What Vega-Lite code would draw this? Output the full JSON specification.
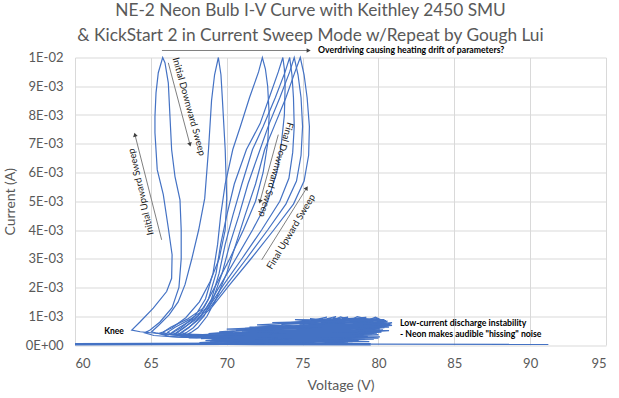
{
"$schema": "https://vega.github.io/schema/vega-lite/v6.json",
"width": 531, "height": 287.5,
"autosize": {"type": "none"},
"padding": {"left": 75, "top": 57.5, "right": 13, "bottom": 53},
"background": "white",
"title": {"text": ["NE-2 Neon Bulb I-V Curve with Keithley 2450 SMU", "& KickStart 2 in Current Sweep Mode w/Repeat by Gough Lui"], "font": "Lato", "fontSize": 17.3, "fontWeight": "normal", "color": "#595959", "lineHeight": 25, "anchor": "middle", "frame": "group", "dx": -30, "offset": 2.5},
"config": {"view": {"stroke": null}},
"datasets": {
"base": [{"s":"b","v":60,"i":0.00003},{"s":"b","v":70,"i":0.00004},{"s":"b","v":79.5,"i":0.00003}],
"curves": [
{"s":"T","v":79.5,"i":0.00003},{"s":"T","v":91.2,"i":0.00002},
{"s":"L1","v":69.5,"i":0.0003},{"s":"L1","v":67.5,"i":0.00033},{"s":"L1","v":65.5,"i":0.0004},{"s":"L1","v":64.3,"i":0.00046},{"s":"L1","v":63.74,"i":0.00052},
{"s":"L1","v":64.28,"i":0.0008},{"s":"L1","v":65.16,"i":0.00128},{"s":"L1","v":66.04,"i":0.00186},{"s":"L1","v":66.37,"i":0.00232},{"s":"L1","v":66.4,"i":0.00314},{"s":"L1","v":66.15,"i":0.00407},{"s":"L1","v":65.82,"i":0.00523},{"s":"L1","v":65.42,"i":0.0061},{"s":"L1","v":65.27,"i":0.00738},{"s":"L1","v":65.27,"i":0.00795},{"s":"L1","v":65.34,"i":0.00877},{"s":"L1","v":65.49,"i":0.00947},{"s":"L1","v":65.78,"i":0.01},
{"s":"L1","v":65.93,"i":0.00982},{"s":"L1","v":66.15,"i":0.00912},{"s":"L1","v":66.26,"i":0.00795},{"s":"L1","v":66.37,"i":0.00679},{"s":"L1","v":66.59,"i":0.00586},{"s":"L1","v":66.92,"i":0.00505},{"s":"L1","v":67.0,"i":0.004},{"s":"L1","v":67.0,"i":0.003},{"s":"L1","v":66.85,"i":0.002},{"s":"L1","v":66.4,"i":0.0013},{"s":"L1","v":65.6,"i":0.0008},{"s":"L1","v":64.95,"i":0.00052},{"s":"L1","v":64.6,"i":0.00042},
{"s":"L1","v":65.2,"i":0.00033},{"s":"L1","v":66.8,"i":0.00027},{"s":"L1","v":69,"i":0.00025},{"s":"L1","v":72,"i":0.0003},
{"s":"L2","v":71,"i":0.00028},{"s":"L2","v":68,"i":0.0003},{"s":"L2","v":66.2,"i":0.00036},{"s":"L2","v":65.4,"i":0.00041},{"s":"L2","v":65.05,"i":0.00046},
{"s":"L2","v":65.5,"i":0.00068},{"s":"L2","v":66.2,"i":0.00105},{"s":"L2","v":66.8,"i":0.0015},{"s":"L2","v":67.25,"i":0.0021},{"s":"L2","v":67.7,"i":0.003},{"s":"L2","v":68.15,"i":0.004},{"s":"L2","v":68.55,"i":0.0051},{"s":"L2","v":68.8,"i":0.0068},{"s":"L2","v":69.0,"i":0.0085},{"s":"L2","v":69.2,"i":0.0094},{"s":"L2","v":69.45,"i":0.01},
{"s":"L2","v":69.62,"i":0.0094},{"s":"L2","v":69.72,"i":0.0085},{"s":"L2","v":69.9,"i":0.0068},{"s":"L2","v":70.0,"i":0.0051},{"s":"L2","v":69.9,"i":0.004},{"s":"L2","v":69.5,"i":0.003},{"s":"L2","v":68.9,"i":0.0022},{"s":"L2","v":68.2,"i":0.0015},{"s":"L2","v":67.3,"i":0.00095},{"s":"L2","v":66.4,"i":0.0006},{"s":"L2","v":65.8,"i":0.00045},{"s":"L2","v":65.5,"i":0.0004},
{"s":"L2","v":66.2,"i":0.0003},{"s":"L2","v":68,"i":0.00025},{"s":"L2","v":71,"i":0.0003},{"s":"L2","v":74,"i":0.0004},
{"s":"L3","v":72,"i":0.0003},{"s":"L3","v":69,"i":0.00028},{"s":"L3","v":67,"i":0.00032},{"s":"L3","v":66.1,"i":0.00038},{"s":"L3","v":65.8,"i":0.00044},
{"s":"L3","v":66.3,"i":0.00062},{"s":"L3","v":67.4,"i":0.0009},{"s":"L3","v":68.5,"i":0.0013},{"s":"L3","v":69.3,"i":0.0021},{"s":"L3","v":70.2,"i":0.003},{"s":"L3","v":71.1,"i":0.004},{"s":"L3","v":71.9,"i":0.005},{"s":"L3","v":72.4,"i":0.006},{"s":"L3","v":72.7,"i":0.007},{"s":"L3","v":72.8,"i":0.008},{"s":"L3","v":72.7,"i":0.009},{"s":"L3","v":72.55,"i":0.0096},{"s":"L3","v":72.35,"i":0.01},
{"s":"L3","v":72.1,"i":0.0095},{"s":"L3","v":71.5,"i":0.0086},{"s":"L3","v":70.9,"i":0.0076},{"s":"L3","v":70.4,"i":0.0068},{"s":"L3","v":69.9,"i":0.0056},{"s":"L3","v":69.6,"i":0.0045},{"s":"L3","v":69.4,"i":0.0035},{"s":"L3","v":69.1,"i":0.0025},{"s":"L3","v":68.6,"i":0.0016},{"s":"L3","v":67.9,"i":0.001},{"s":"L3","v":67.0,"i":0.0006},{"s":"L3","v":66.5,"i":0.00045},{"s":"L3","v":66.3,"i":0.0004},
{"s":"L3","v":67,"i":0.0003},{"s":"L3","v":69,"i":0.00026},{"s":"L3","v":72,"i":0.00032},{"s":"L3","v":75,"i":0.00045},
{"s":"L4","v":73,"i":0.00035},{"s":"L4","v":70,"i":0.0003},{"s":"L4","v":67.5,"i":0.00032},{"s":"L4","v":66.4,"i":0.00038},{"s":"L4","v":66.1,"i":0.00044},
{"s":"L4","v":66.6,"i":0.00062},{"s":"L4","v":67.6,"i":0.0009},{"s":"L4","v":68.7,"i":0.0013},{"s":"L4","v":69.6,"i":0.0021},{"s":"L4","v":70.6,"i":0.003},{"s":"L4","v":71.7,"i":0.004},{"s":"L4","v":72.7,"i":0.005},{"s":"L4","v":73.3,"i":0.006},{"s":"L4","v":73.6,"i":0.007},{"s":"L4","v":73.8,"i":0.008},{"s":"L4","v":73.85,"i":0.009},{"s":"L4","v":73.8,"i":0.0096},{"s":"L4","v":73.7,"i":0.01},
{"s":"L4","v":73.4,"i":0.0095},{"s":"L4","v":72.8,"i":0.0086},{"s":"L4","v":72.2,"i":0.0077},{"s":"L4","v":71.3,"i":0.0068},{"s":"L4","v":70.5,"i":0.0056},{"s":"L4","v":70.0,"i":0.0045},{"s":"L4","v":69.6,"i":0.0035},{"s":"L4","v":69.3,"i":0.0025},{"s":"L4","v":68.8,"i":0.0016},{"s":"L4","v":68.1,"i":0.001},{"s":"L4","v":67.2,"i":0.0006},{"s":"L4","v":66.8,"i":0.00045},{"s":"L4","v":66.6,"i":0.0004},
{"s":"L4","v":67.3,"i":0.0003},{"s":"L4","v":69.5,"i":0.00027},{"s":"L4","v":72.5,"i":0.00035},{"s":"L4","v":76,"i":0.0005},
{"s":"L5","v":74,"i":0.0004},{"s":"L5","v":71,"i":0.00032},{"s":"L5","v":68,"i":0.00033},{"s":"L5","v":66.7,"i":0.00038},{"s":"L5","v":66.4,"i":0.00044},
{"s":"L5","v":66.9,"i":0.00062},{"s":"L5","v":67.8,"i":0.0009},{"s":"L5","v":68.8,"i":0.0013},{"s":"L5","v":69.8,"i":0.0021},{"s":"L5","v":71.0,"i":0.003},{"s":"L5","v":72.3,"i":0.004},{"s":"L5","v":73.5,"i":0.005},{"s":"L5","v":74.1,"i":0.0058},{"s":"L5","v":74.35,"i":0.0067},{"s":"L5","v":74.45,"i":0.0076},{"s":"L5","v":74.4,"i":0.0086},{"s":"L5","v":74.3,"i":0.0094},{"s":"L5","v":74.15,"i":0.01},
{"s":"L5","v":73.85,"i":0.0095},{"s":"L5","v":73.2,"i":0.0086},{"s":"L5","v":72.4,"i":0.0076},{"s":"L5","v":71.7,"i":0.0068},{"s":"L5","v":71.0,"i":0.0056},{"s":"L5","v":70.4,"i":0.0045},{"s":"L5","v":69.9,"i":0.0035},{"s":"L5","v":69.5,"i":0.0025},{"s":"L5","v":69.0,"i":0.0016},{"s":"L5","v":68.3,"i":0.001},{"s":"L5","v":67.5,"i":0.0006},{"s":"L5","v":67.1,"i":0.00045},{"s":"L5","v":66.9,"i":0.0004},
{"s":"L5","v":67.6,"i":0.0003},{"s":"L5","v":70,"i":0.00028},{"s":"L5","v":73,"i":0.00038},{"s":"L5","v":77,"i":0.00055},
{"s":"L6","v":75,"i":0.00045},{"s":"L6","v":72,"i":0.00035},{"s":"L6","v":68.5,"i":0.00034},{"s":"L6","v":67,"i":0.00038},{"s":"L6","v":66.7,"i":0.00044},
{"s":"L6","v":67.2,"i":0.00062},{"s":"L6","v":68.0,"i":0.0009},{"s":"L6","v":68.9,"i":0.0013},{"s":"L6","v":70.0,"i":0.0021},{"s":"L6","v":71.3,"i":0.003},{"s":"L6","v":72.7,"i":0.004},{"s":"L6","v":73.9,"i":0.0049},{"s":"L6","v":74.6,"i":0.0057},{"s":"L6","v":74.9,"i":0.0066},{"s":"L6","v":75.0,"i":0.0076},{"s":"L6","v":74.9,"i":0.0086},{"s":"L6","v":74.7,"i":0.0094},{"s":"L6","v":74.45,"i":0.01},
{"s":"L6","v":74.15,"i":0.0095},{"s":"L6","v":73.5,"i":0.0086},{"s":"L6","v":72.8,"i":0.0077},{"s":"L6","v":72.2,"i":0.0068},{"s":"L6","v":71.4,"i":0.0056},{"s":"L6","v":70.8,"i":0.0045},{"s":"L6","v":70.2,"i":0.0035},{"s":"L6","v":69.7,"i":0.0025},{"s":"L6","v":69.1,"i":0.0016},{"s":"L6","v":68.5,"i":0.001},{"s":"L6","v":67.8,"i":0.0006},{"s":"L6","v":67.4,"i":0.00045},{"s":"L6","v":67.2,"i":0.0004},
{"s":"L6","v":68,"i":0.0003},{"s":"L6","v":70.5,"i":0.0003},{"s":"L6","v":74,"i":0.00042},{"s":"L6","v":78,"i":0.0006},
{"s":"L7","v":76,"i":0.0005},{"s":"L7","v":73,"i":0.00038},{"s":"L7","v":69,"i":0.00035},{"s":"L7","v":67.3,"i":0.00038},{"s":"L7","v":67.0,"i":0.00044},
{"s":"L7","v":67.5,"i":0.00062},{"s":"L7","v":68.2,"i":0.0009},{"s":"L7","v":69.0,"i":0.0013},{"s":"L7","v":70.2,"i":0.0021},{"s":"L7","v":71.6,"i":0.003},{"s":"L7","v":73.1,"i":0.004},{"s":"L7","v":74.4,"i":0.0049},{"s":"L7","v":75.1,"i":0.0057},{"s":"L7","v":75.4,"i":0.0066},{"s":"L7","v":75.45,"i":0.0076},{"s":"L7","v":75.3,"i":0.0086},{"s":"L7","v":75.1,"i":0.0094},{"s":"L7","v":74.85,"i":0.01},
{"s":"L7","v":74.5,"i":0.0095},{"s":"L7","v":73.9,"i":0.0086},{"s":"L7","v":73.2,"i":0.0077},{"s":"L7","v":72.5,"i":0.0068},{"s":"L7","v":71.9,"i":0.0056},{"s":"L7","v":71.2,"i":0.0045},{"s":"L7","v":70.6,"i":0.0035},{"s":"L7","v":70.0,"i":0.0025},{"s":"L7","v":69.3,"i":0.0016},{"s":"L7","v":68.7,"i":0.001},{"s":"L7","v":68.1,"i":0.0006},{"s":"L7","v":67.7,"i":0.00045},{"s":"L7","v":67.5,"i":0.0004},
{"s":"L7","v":68.3,"i":0.0003},{"s":"L7","v":71,"i":0.00032},{"s":"L7","v":75,"i":0.00045},{"s":"L7","v":79,"i":0.00065},
{"s":"N","v":68.0,"i":0.00035},{"s":"N","v":80.2,"i":0.00062},{"s":"N","v":68.8,"i":0.0004},{"s":"N","v":79.8,"i":0.00086},{"s":"N","v":69.5,"i":0.00046},{"s":"N","v":80.9,"i":0.00077},{"s":"N","v":70.6,"i":0.00052},{"s":"N","v":79.6,"i":0.00038},{"s":"N","v":68.3,"i":0.00022},{"s":"N","v":80.5,"i":0.0007},{"s":"N","v":71.2,"i":0.00058},{"s":"N","v":78.9,"i":0.00093},{"s":"N","v":72.6,"i":0.00064},{"s":"N","v":80.1,"i":0.00055},{"s":"N","v":69.6,"i":0.0003},{"s":"N","v":79.3,"i":0.0003},{"s":"N","v":68.6,"i":0.00015},{"s":"N","v":80.6,"i":0.00082},{"s":"N","v":73.6,"i":0.00072},{"s":"N","v":77.8,"i":0.00095},{"s":"N","v":74.2,"i":0.00078},{"s":"N","v":80.3,"i":0.00066},{"s":"N","v":70.2,"i":0.00036},{"s":"N","v":79.1,"i":0.0002},{"s":"N","v":69.0,"i":0.0001},{"s":"N","v":80.7,"i":0.0005},{"s":"N","v":72.1,"i":0.00048},{"s":"N","v":78.5,"i":0.0009},{"s":"N","v":75.1,"i":0.00084},{"s":"N","v":80.0,"i":0.00092},{"s":"N","v":71.6,"i":0.00044},{"s":"N","v":79.7,"i":0.00046},{"s":"N","v":69.3,"i":0.00024},{"s":"N","v":78.3,"i":0.00012},{"s":"N","v":70.9,"i":0.00018},{"s":"N","v":80.4,"i":0.0006},{"s":"N","v":73.1,"i":0.00056},{"s":"N","v":76.6,"i":0.00097},{"s":"N","v":75.9,"i":0.00086},{"s":"N","v":79.9,"i":0.00074},{"s":"N","v":72.9,"i":0.0004},{"s":"N","v":79.4,"i":0.00026},{"s":"N","v":68.9,"i":0.00013},{"s":"N","v":78.0,"i":0.00007},{"s":"N","v":71.4,"i":0.00027},{"s":"N","v":80.8,"i":0.00072},{"s":"N","v":74.6,"i":0.00066},{"s":"N","v":77.2,"i":0.00099},{"s":"N","v":76.9,"i":0.00088},{"s":"N","v":78.0,"i":0.00097},{"s":"N","v":77.6,"i":0.0009},{"s":"N","v":79.2,"i":0.00096},{"s":"N","v":78.8,"i":0.00089},{"s":"N","v":80.4,"i":0.00088},{"s":"N","v":73.8,"i":0.00062},{"s":"N","v":79.5,"i":0.00058},{"s":"N","v":70.4,"i":0.0004},{"s":"N","v":79.0,"i":0.00034},{"s":"N","v":70.0,"i":0.00012},{"s":"N","v":76.5,"i":0.00006},{"s":"N","v":72.3,"i":0.0002},{"s":"N","v":80.2,"i":0.00045},{"s":"N","v":74.8,"i":0.00052},{"s":"N","v":79.8,"i":0.0008},{"s":"N","v":76.2,"i":0.00078},{"s":"N","v":80.6,"i":0.00066},{"s":"N","v":71.8,"i":0.00034},{"s":"N","v":78.7,"i":0.00016},{"s":"N","v":69.8,"i":0.00006},{"s":"N","v":77.5,"i":0.00022},{"s":"N","v":73.4,"i":0.0003},{"s":"N","v":79.9,"i":0.0004},
{"s":"N2","v":67.5,"i":0.00025},{"s":"N2","v":79.8,"i":0.0005},{"s":"N2","v":70.0,"i":0.00055},{"s":"N2","v":80.3,"i":0.00078},{"s":"N2","v":71.5,"i":0.00062},{"s":"N2","v":79.0,"i":0.0007},{"s":"N2","v":68.5,"i":0.0003},{"s":"N2","v":80.0,"i":0.00035},{"s":"N2","v":69.0,"i":0.00018},{"s":"N2","v":79.6,"i":0.00055},{"s":"N2","v":72.0,"i":0.0007},{"s":"N2","v":78.2,"i":0.00085},{"s":"N2","v":73.0,"i":0.00078},{"s":"N2","v":80.5,"i":0.00085},{"s":"N2","v":74.5,"i":0.00088},{"s":"N2","v":76.0,"i":0.0008},{"s":"N2","v":75.5,"i":0.00092},{"s":"N2","v":77.0,"i":0.00084},{"s":"N2","v":77.5,"i":0.00098},{"s":"N2","v":78.2,"i":0.00087},{"s":"N2","v":78.6,"i":0.00099},{"s":"N2","v":79.4,"i":0.00088},{"s":"N2","v":79.8,"i":0.00097},{"s":"N2","v":80.5,"i":0.0008},{"s":"N2","v":70.5,"i":0.00028},{"s":"N2","v":79.2,"i":0.00042},{"s":"N2","v":68.2,"i":0.00008},{"s":"N2","v":79.7,"i":0.0002},{"s":"N2","v":71.0,"i":0.00012},{"s":"N2","v":80.1,"i":0.00028},{"s":"N2","v":72.5,"i":0.00033},{"s":"N2","v":80.9,"i":0.00068},{"s":"N2","v":73.5,"i":0.00045},{"s":"N2","v":79.4,"i":0.00062},{"s":"N2","v":69.5,"i":0.00015},{"s":"N2","v":77.0,"i":0.00015},{"s":"N2","v":72.0,"i":0.00008},{"s":"N2","v":78.5,"i":0.0004},{"s":"N2","v":74.0,"i":0.0004},{"s":"N2","v":80.3,"i":0.00052},{"s":"N2","v":71.0,"i":0.00046},{"s":"N2","v":78.6,"i":0.0006},{"s":"N2","v":73.2,"i":0.00065},{"s":"N2","v":79.6,"i":0.00066},{"s":"N2","v":75.0,"i":0.0007},{"s":"N2","v":80.7,"i":0.00062},{"s":"N2","v":76.0,"i":0.0006},{"s":"N2","v":79.0,"i":0.0005},{"s":"N2","v":69.8,"i":0.00038},{"s":"N2","v":77.8,"i":0.00032},{"s":"N2","v":68.6,"i":0.00026},{"s":"N2","v":76.8,"i":0.0004},{"s":"N2","v":72.4,"i":0.00052},{"s":"N2","v":80.0,"i":0.00024},{"s":"N2","v":74.3,"i":0.00022},{"s":"N2","v":79.4,"i":0.00012},{"s":"N2","v":73.0,"i":0.0001}
],
"arrows": [
{"k":"over","v":65.73,"i":0.010244,"v2":75.4,"i2":0.010244},
{"k":"idown","v":66.15,"i":0.009815,"v2":67.58,"i2":0.006969},
{"k":"iup","v":65.71,"i":0.003659,"v2":63.95,"i2":0.007317},
{"k":"fdown","v":73.4,"i":0.007317,"v2":72.19,"i2":0.00499},
{"k":"fup","v":72.31,"i":0.002962,"v2":75.27,"i2":0.00546}
],
"notes": [
{"k":"over","v":76.02,"i":0.010244,"t":"Overdriving causing heating drift of parameters?"},
{"k":"low","v":81.42,"i":0.000777,"t":"Low-current discharge instability"},
{"k":"low","v":81.42,"i":0.000383,"t":"- Neon makes audible \"hissing\" noise"},
{"k":"knee","v":62.57,"i":0.000488,"t":"Knee"},
{"k":"idown","v":67.51,"i":0.008293,"t":"Initial Downward Sweep"},
{"k":"iup","v":64.35,"i":0.005331,"t":"Initial Upward Sweep"},
{"k":"fdown","v":73.25,"i":0.006098,"t":"Final Downward Sweep"},
{"k":"fup","v":74.24,"i":0.003937,"t":"Final Upward Sweep"}
]
},
"encoding": {
"x": {"field": "v", "type": "quantitative", "scale": {"domain": [60, 95], "nice": false, "zero": false},
 "axis": {"values": [60,65,70,75,80,85,90,95], "title": "Voltage (V)", "grid": true, "gridColor": "#d9d9d9", "domain": false, "ticks": false, "labelFont": "Lato", "labelFontSize": 13, "labelColor": "#595959", "labelPadding": 12, "titleFont": "Lato", "titleFontSize": 14, "titleFontWeight": "normal", "titleColor": "#595959", "titlePadding": 8}},
"y": {"field": "i", "type": "quantitative", "scale": {"domain": [0, 0.01], "nice": false, "zero": false},
 "axis": {"values": [0,0.001,0.002,0.003,0.004,0.005,0.006,0.007,0.008,0.009,0.01], "labelExpr": "datum.value == 0 ? '0E+00' : (datum.value > 0.0095 ? '1E-02' : round(datum.value*1000) + 'E-03')", "title": "Current (A)", "grid": true, "gridColor": "#d9d9d9", "domain": false, "ticks": false, "labelFont": "Lato", "labelFontSize": 13, "labelColor": "#595959", "labelPadding": 12, "titleFont": "Lato", "titleFontSize": 14, "titleFontWeight": "normal", "titleColor": "#595959", "titlePadding": 8}}
},
"layer": [
{"data": {"name": "base"}, "mark": {"type": "line", "color": "#4472C4", "strokeWidth": 2.5}, "encoding": {"detail": {"field": "s"}, "order": {"value": null}}},
{"data": {"name": "curves"}, "mark": {"type": "line", "color": "#4472C4", "strokeWidth": 1.2}, "encoding": {"detail": {"field": "s"}, "order": {"value": null}}},
{"data": {"name": "arrows"}, "mark": {"type": "rule", "color": "#808080", "strokeWidth": 1}, "encoding": {"x2": {"field": "v2"}, "y2": {"field": "i2"}}},
{"data": {"name": "arrows"}, "transform": [{"filter": "datum.k == 'over'"}], "mark": {"type": "point", "shape": "triangle-up", "filled": true, "size": 22, "angle": 90, "color": "#404040", "opacity": 1}, "encoding": {"x": {"field": "v2", "type": "quantitative"}, "y": {"field": "i2", "type": "quantitative"}}},
{"data": {"name": "arrows"}, "transform": [{"filter": "datum.k == 'idown'"}], "mark": {"type": "point", "shape": "triangle-up", "filled": true, "size": 22, "angle": 165, "color": "#404040", "opacity": 1}, "encoding": {"x": {"field": "v2", "type": "quantitative"}, "y": {"field": "i2", "type": "quantitative"}}},
{"data": {"name": "arrows"}, "transform": [{"filter": "datum.k == 'iup'"}], "mark": {"type": "point", "shape": "triangle-up", "filled": true, "size": 22, "angle": 346, "color": "#404040", "opacity": 1}, "encoding": {"x": {"field": "v2", "type": "quantitative"}, "y": {"field": "i2", "type": "quantitative"}}},
{"data": {"name": "arrows"}, "transform": [{"filter": "datum.k == 'fdown'"}], "mark": {"type": "point", "shape": "triangle-up", "filled": true, "size": 22, "angle": 195, "color": "#404040", "opacity": 1}, "encoding": {"x": {"field": "v2", "type": "quantitative"}, "y": {"field": "i2", "type": "quantitative"}}},
{"data": {"name": "arrows"}, "transform": [{"filter": "datum.k == 'fup'"}], "mark": {"type": "point", "shape": "triangle-up", "filled": true, "size": 22, "angle": 32, "color": "#404040", "opacity": 1}, "encoding": {"x": {"field": "v2", "type": "quantitative"}, "y": {"field": "i2", "type": "quantitative"}}},
{"data": {"name": "notes"}, "transform": [{"filter": "datum.k == 'over' || datum.k == 'low'"}], "mark": {"type": "text", "align": "left", "baseline": "middle", "font": "Lato", "fontSize": 8.7, "fontWeight": "bold", "color": "#000000"}, "encoding": {"text": {"field": "t"}}},
{"data": {"name": "notes"}, "transform": [{"filter": "datum.k == 'knee'"}], "mark": {"type": "text", "align": "center", "baseline": "middle", "font": "Lato", "fontSize": 8.5, "fontWeight": "bold", "color": "#000000"}, "encoding": {"text": {"field": "t"}}},
{"data": {"name": "notes"}, "transform": [{"filter": "datum.k == 'idown'"}], "mark": {"type": "text", "align": "center", "baseline": "middle", "angle": 74.6, "font": "Lato", "fontSize": 9.5, "color": "#1a1a1a"}, "encoding": {"text": {"field": "t"}}},
{"data": {"name": "notes"}, "transform": [{"filter": "datum.k == 'iup'"}], "mark": {"type": "text", "align": "center", "baseline": "middle", "angle": 257.3, "font": "Lato", "fontSize": 9.5, "color": "#1a1a1a"}, "encoding": {"text": {"field": "t"}}},
{"data": {"name": "notes"}, "transform": [{"filter": "datum.k == 'fdown'"}], "mark": {"type": "text", "align": "center", "baseline": "middle", "angle": 107, "font": "Lato", "fontSize": 9.5, "color": "#1a1a1a"}, "encoding": {"text": {"field": "t"}}},
{"data": {"name": "notes"}, "transform": [{"filter": "datum.k == 'fup'"}], "mark": {"type": "text", "align": "center", "baseline": "middle", "angle": 300.8, "font": "Lato", "fontSize": 9.5, "color": "#1a1a1a"}, "encoding": {"text": {"field": "t"}}}
]
}
